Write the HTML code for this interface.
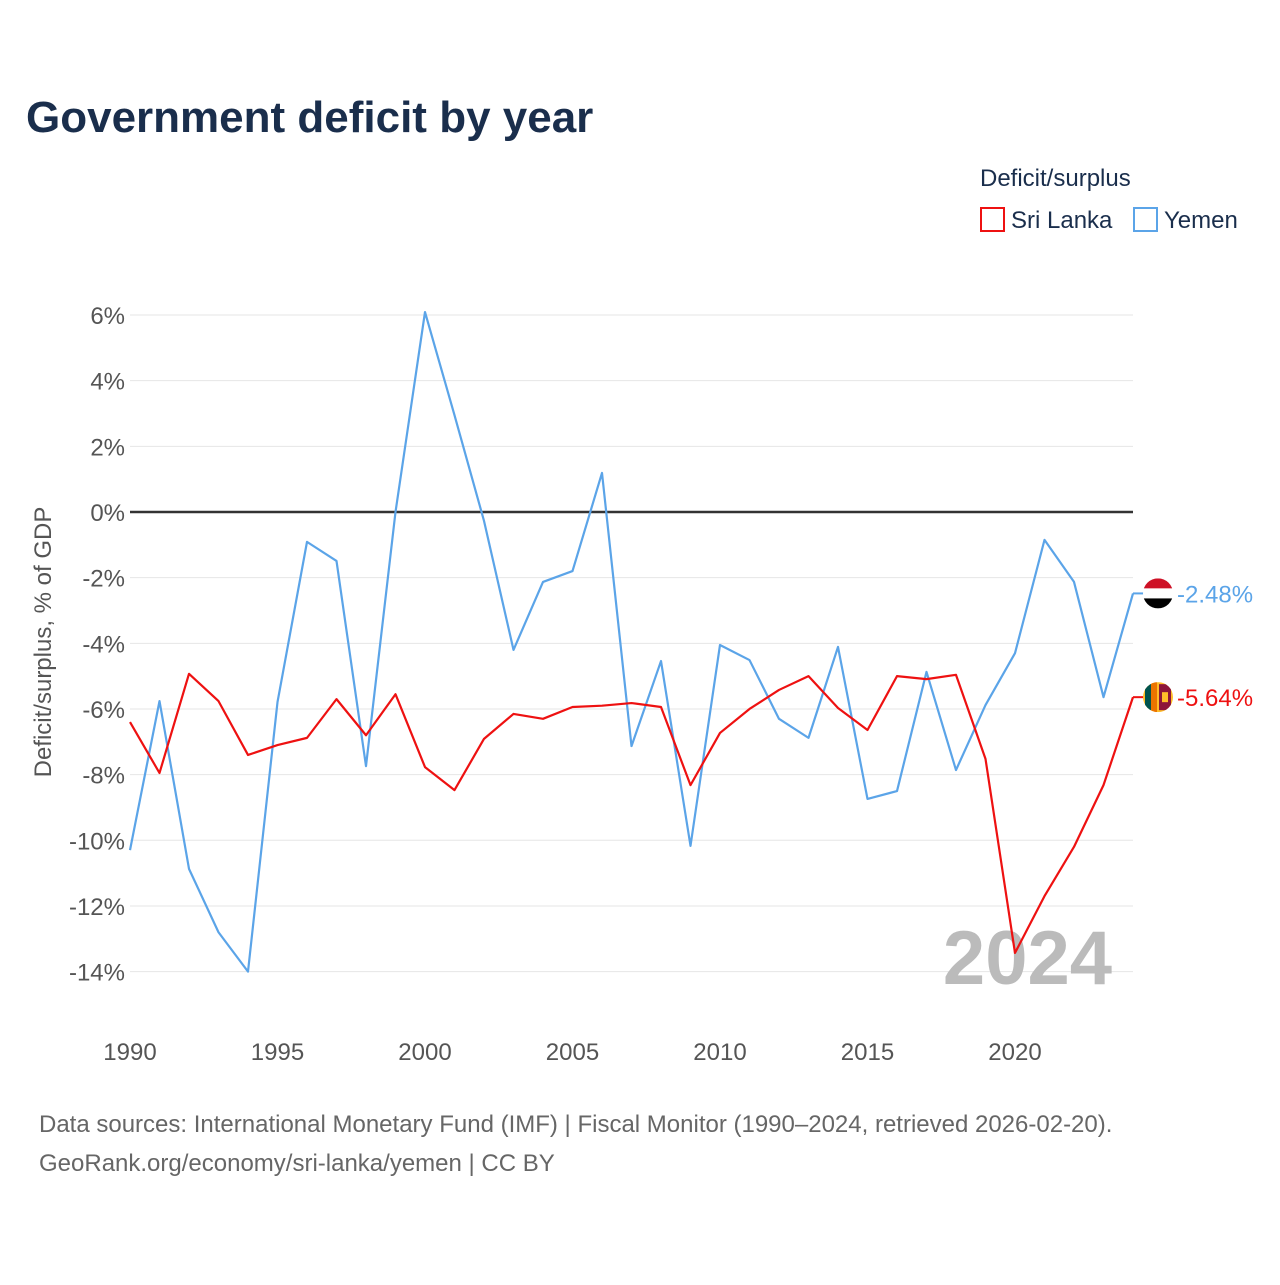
<!DOCTYPE html>
<html><head><meta charset="utf-8"><style>
body{margin:0;background:#fff;font-family:"Liberation Sans",sans-serif;}
svg text{font-family:"Liberation Sans",sans-serif;}
</style></head><body>
<svg id="chart" width="1280" height="1280" viewBox="0 0 1280 1280">
<defs><clipPath id="flagclip"><circle cx="0" cy="0" r="15"/></clipPath></defs>
<rect width="1280" height="1280" fill="#fff"/>
<text x="26" y="132" font-size="44" font-weight="bold" fill="#1a2e4c">Government deficit by year</text>
<text x="980" y="186" font-size="24" fill="#1a2e4c">Deficit/surplus</text>
<g><rect x="981" y="208" width="23" height="23" fill="none" stroke="#ee1111" stroke-width="2"/><text x="1011" y="228" font-size="24" fill="#1a2e4c">Sri Lanka</text></g>
<g><rect x="1134" y="208" width="23" height="23" fill="none" stroke="#5ba4e8" stroke-width="2"/><text x="1164" y="228" font-size="24" fill="#1a2e4c">Yemen</text></g>
<g id="grid"></g>
<g id="xticks"></g>
<text transform="translate(51,642) rotate(-90)" text-anchor="middle" font-size="24" fill="#555">Deficit/surplus, % of GDP</text>
<text x="1112" y="984" text-anchor="end" font-size="76" font-weight="bold" fill="#bbb">2024</text>
<g id="series"></g>
<text x="39" y="1132" font-size="24" fill="#666">Data sources: International Monetary Fund (IMF) | Fiscal Monitor (1990–2024, retrieved 2026-02-20).</text>
<text x="39" y="1171" font-size="24" fill="#666">GeoRank.org/economy/sri-lanka/yemen | CC BY</text>
</svg>
<script>
const years=[1990,1991,1992,1993,1994,1995,1996,1997,1998,1999,2000,2001,2002,2003,2004,2005,2006,2007,2008,2009,2010,2011,2012,2013,2014,2015,2016,2017,2018,2019,2020,2021,2022,2023,2024];
const sriLanka=[-6.4,-7.95,-4.93,-5.76,-7.4,-7.1,-6.88,-5.7,-6.8,-5.55,-7.77,-8.47,-6.91,-6.15,-6.3,-5.94,-5.9,-5.82,-5.94,-8.32,-6.73,-6.0,-5.42,-5.0,-5.97,-6.64,-5.0,-5.09,-4.96,-7.52,-13.43,-11.7,-10.2,-8.32,-5.64];
const yemen=[-10.3,-5.76,-10.87,-12.8,-14.0,-5.79,-0.91,-1.49,-7.74,0.0,6.09,2.95,-0.27,-4.2,-2.13,-1.8,1.19,-7.13,-4.54,-10.17,-4.05,-4.51,-6.3,-6.88,-4.11,-8.74,-8.5,-4.87,-7.86,-5.88,-4.3,-0.85,-2.13,-5.64,-2.48];
const yTicks=[6,4,2,0,-2,-4,-6,-8,-10,-12,-14];
const xTicks=[1990,1995,2000,2005,2010,2015,2020];
const NS="http://www.w3.org/2000/svg";
const X=y=>130+(y-1990)*(1133-130)/34;
const Y=v=>512-v*32.83;
function mk(tag,attrs,parent,txt){const e=document.createElementNS(NS,tag);for(const k in attrs)e.setAttribute(k,attrs[k]);if(txt!==undefined)e.textContent=txt;parent.appendChild(e);return e;}
const grid=document.getElementById('grid');
yTicks.forEach(t=>{
 const l=mk('line',{x1:130,x2:1133,y1:Y(t),y2:Y(t),stroke:t===0?'#333':'#e6e6e6','stroke-width':t===0?2.5:1},grid);
 
 
 const tx=mk('text',{x:125,y:Y(t)+9,'text-anchor':'end','font-size':24,fill:'#555'},grid,t+'%');
 
 
});
const xg=document.getElementById('xticks');
xTicks.forEach(t=>{
 const tx=mk('text',{x:X(t),y:1060,'text-anchor':'middle','font-size':24,fill:'#555'},xg,String(t));
 
 
});
const sg=document.getElementById('series');
function line(vals,color,name){
 const p=mk('polyline',{points:vals.map((v,i)=>X(years[i])+','+Y(v)).join(' '),fill:'none',stroke:color,'stroke-width':2.2,'stroke-linejoin':'round'},sg);
 
 
}
line(yemen,'#5ba4e8','yemen-line');
line(sriLanka,'#ee1111','sri-lanka-line');
function endLabel(vals,color,name,flag){
 const v=vals[vals.length-1],x=X(years[years.length-1]),y=Y(v);
 mk('line',{x1:x,x2:x+12,y1:y,y2:y,stroke:color,'stroke-width':2},sg);
 const g=mk('g',{transform:`translate(${x+25},${y})`},sg);
 
 
 const cg=mk('g',{'clip-path':'url(#flagclip)'},g);
 if(flag==='ye'){
  mk('rect',{x:-15,y:-15,width:30,height:10,fill:'#ce1126'},cg);
  mk('rect',{x:-15,y:-5,width:30,height:10,fill:'#fff'},cg);
  mk('rect',{x:-15,y:5,width:30,height:10,fill:'#000'},cg);
 }else{
  mk('rect',{x:-15,y:-15,width:30,height:30,fill:'#ffbe29'},cg);
  mk('rect',{x:-13,y:-15,width:6,height:30,fill:'#00534e'},cg);
  mk('rect',{x:-7,y:-15,width:6,height:30,fill:'#eb7400'},cg);
  mk('rect',{x:1,y:-13,width:12,height:26,fill:'#8d153a'},cg);
  mk('rect',{x:4,y:-5,width:6,height:10,fill:'#ffbe29'},cg);
 }
 const t=mk('text',{x:x+44,y:y+9,'font-size':24,fill:color},sg,v.toFixed(2)+'%');
 
 
}
endLabel(yemen,'#5ba4e8','yemen','ye');
endLabel(sriLanka,'#ee1111','sri-lanka','lk');
</script>
</body></html>
